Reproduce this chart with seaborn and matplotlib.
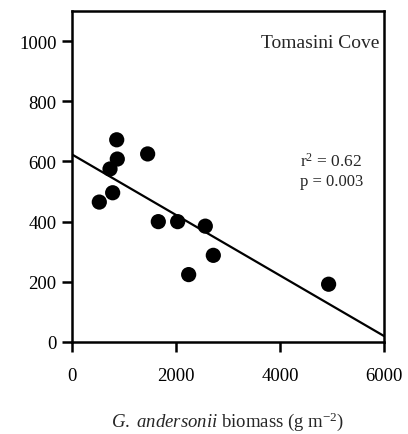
import matplotlib
matplotlib.use("Agg")
import matplotlib.pyplot as plt
import seaborn as sns
import numpy as np
import pandas as pd

# Data
biomass = [525, 731, 782, 860, 871, 1455, 1660, 2032, 2244, 2564, 2718, 4936]
response = [465, 575, 496, 672, 608, 625, 400, 400, 224, 385, 288, 192]
x_ticks = [0, 2000, 4000, 6000]
y_ticks = [0, 200, 400, 600, 800, 1000]
site_label = "Tomasini Cove"
stats_lines = ["r$^{2}$ = 0.62", "p = 0.003"]

df = pd.DataFrame({"biomass": biomass, "response": response})

sns.set_style("ticks")
plt.rcParams["font.family"] = ["Liberation Serif", "DejaVu Serif"]
plt.rcParams["mathtext.fontset"] = "custom"
plt.rcParams["mathtext.rm"] = "Liberation Serif"
plt.rcParams["mathtext.it"] = "Liberation Serif:italic"

fig = plt.figure(figsize=(4.08, 4.35), dpi=100)
ax = fig.add_axes([0.1765, 0.2115, 0.941 - 0.1765, 0.9724 - 0.2115])
ax.set_xlim(0, 6000)
ax.set_ylim(0, 1100)

sns.regplot(data=df, x="biomass", y="response", ax=ax, ci=None, truncate=False,
            color="black",
            scatter_kws={"s": 120, "edgecolor": "none", "alpha": 1, "zorder": 3},
            line_kws={"lw": 1.6, "color": "black"})

ax.set_xlim(0, 6000)
ax.set_ylim(0, 1100)
ax.set_xticks(x_ticks)
ax.set_yticks(y_ticks)
ax.tick_params(axis="both", labelsize=13.5, length=7, width=1.8, color="black",
               labelcolor="black")
ax.tick_params(axis="x", pad=11)
ax.tick_params(axis="y", pad=4)
for s in ax.spines.values():
    s.set_visible(True)
    s.set_linewidth(1.8)
    s.set_color("black")

ax.set_ylabel("")
ax.set_xlabel(r"$\it{G.\ andersonii}$ biomass (g m$^{-2}$)", fontsize=13.5, labelpad=18)

ax.text(0.985, 0.905, site_label, transform=ax.transAxes, ha="right", va="center",
        fontsize=14)
ax.text(0.73, 0.548, stats_lines[0], transform=ax.transAxes, ha="left", va="center",
        fontsize=12.5)
ax.text(0.73, 0.485, stats_lines[1], transform=ax.transAxes, ha="left", va="center",
        fontsize=12)

fig.savefig("out.png", dpi=100)
